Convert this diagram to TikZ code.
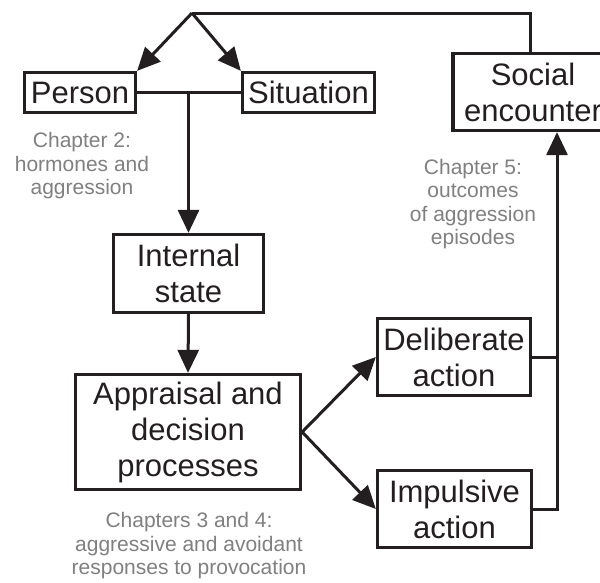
\documentclass[tikz,border=0pt]{standalone}
\usepackage{fontspec}
\setmainfont{Liberation Sans}
\usetikzlibrary{arrows.meta}
\definecolor{notegray}{RGB}{128,128,128}
\definecolor{ink}{RGB}{35,31,32}
\begin{document}
\begin{tikzpicture}[x=1pt,y=-1pt,
  box/.style={draw=ink, line width=3.3pt, inner sep=0pt, align=center,
    font=\fontsize{31}{36}\selectfont, text=ink},
  note/.style={align=center, inner sep=0pt, text=notegray,
    font=\fontsize{21}{23.5}\selectfont},
  link/.style={draw=ink, line width=3pt},
  arr/.style={link, -{Triangle[length=23pt 0, width=21pt 0]}}]
\useasboundingbox (0,0) rectangle (600,582);
\clip (0,0) rectangle (600,582);
\fill[white] (0,0) rectangle (600,582);

% boxes
\node[box, minimum width=111pt, minimum height=40pt] (person) at (80,92.5) {Person};
\node[box, minimum width=132pt, minimum height=40pt] (situation) at (308.5,92.5) {Situation};
\node[box, minimum width=150pt, minimum height=78pt] (internal) at (188.5,273.5) {Internal\\state};
\node[box, minimum width=225pt, minimum height=115pt] (appraisal) at (188,432) {Appraisal and\\decision\\processes};
\node[box, minimum width=153pt, minimum height=77pt] (deliberate) at (454,357) {Deliberate\\action};
\node[box, minimum width=154pt, minimum height=77pt] (impulsive) at (454.5,509) {Impulsive\\action};
\node[box, minimum width=160pt, minimum height=77pt] (social) at (533,92) {Social\\encounter};

% chapter notes
\node[note] (ch2) at (82,166) {Chapter 2:\\hormones and\\aggression};
\node[note] (ch5) at (473,204) {Chapter 5:\\outcomes\\of aggression\\episodes};
\node[note] (ch34) at (189,546) {Chapters 3 and 4:\\aggressive and avoidant\\responses to provocation};

% connectors
\coordinate (apex) at (192,13);
\coordinate (rail) at (557,0);
\coordinate (drop) at (530,0);
\coordinate (join) at (internal.north |- person.east);

\draw[link, line join=miter] (apex) -| (drop |- social.north);
\draw[arr] (apex) -- (person.north east);
\draw[arr] (apex) -- (situation.north west);
\draw[link] (person.east) -- (situation.west);
\draw[arr] (join) -- (internal.north);
\draw[arr] (internal.south) -- (appraisal.north);
\draw[arr] (appraisal.east) -- (deliberate.west);
\draw[arr] (appraisal.east) -- (impulsive.west);
\draw[link] (deliberate.east) -- (deliberate.east -| rail);
\draw[arr] (impulsive.east) -| (rail |- social.south);
\end{tikzpicture}
\end{document}
